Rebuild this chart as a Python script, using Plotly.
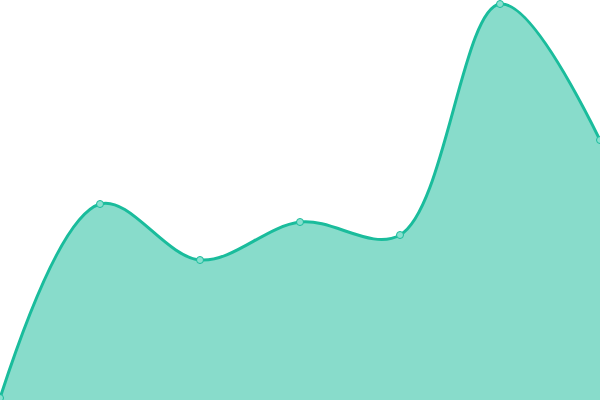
import plotly.graph_objects as go

categories = [0, 1, 2, 3, 4, 5, 6]
values = [2, 196, 140, 178, 165, 396, 260]

LINE = "#1abc9c"

fig = go.Figure()
fig.add_trace(go.Scatter(
    x=categories, y=values, mode="lines+markers",
    line=dict(color=LINE, width=3, shape="spline", smoothing=1.0),
    fill="tozeroy", fillcolor="rgba(26,188,156,0.52)",
    marker=dict(size=7, color="#88e0cf", line=dict(color=LINE, width=1)),
    cliponaxis=False, hoverinfo="skip",
))
fig.update_layout(
    width=600, height=400, margin=dict(l=0, r=0, t=0, b=0),
    paper_bgcolor="white", plot_bgcolor="white", showlegend=False,
)
fig.update_xaxes(visible=False, range=[0, 6])
fig.update_yaxes(visible=False, range=[0, 400])
# drop the default 8px body margin so the chart fills the window
fig.write_html("out.html", config={"displayModeBar": False},
               post_script="document.body.style.margin='0';document.body.style.overflow='hidden';")
